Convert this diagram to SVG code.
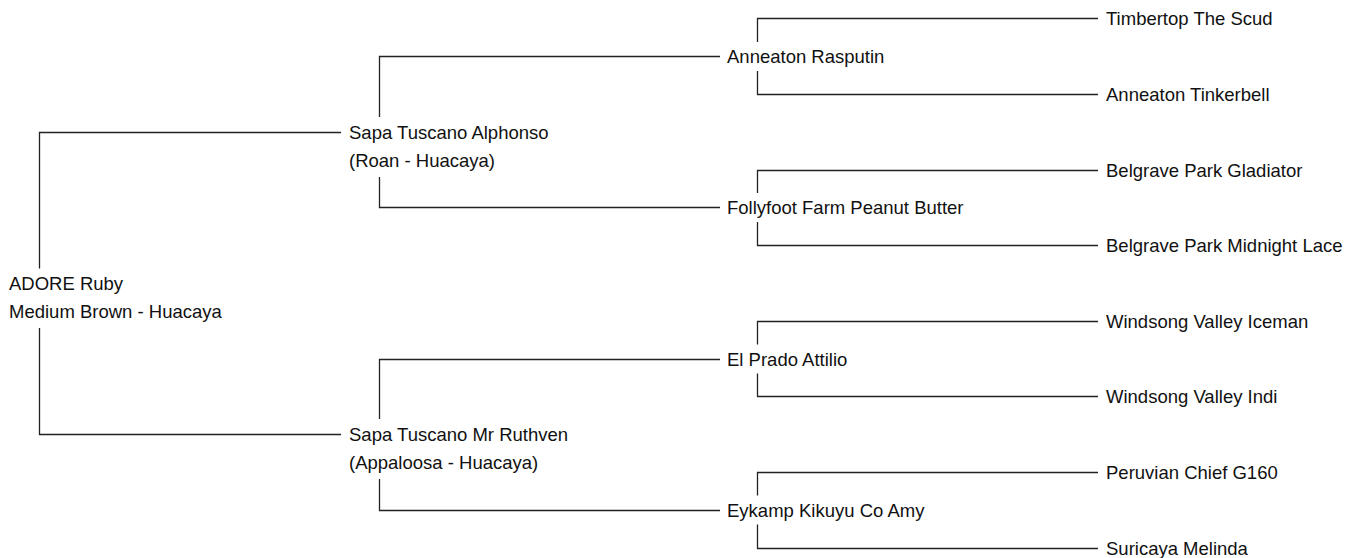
<svg xmlns="http://www.w3.org/2000/svg" width="1351" height="558" viewBox="0 0 1351 558">
<style>
text{font-family:"Liberation Sans",Arial,sans-serif;font-size:18.5px;fill:#111}
.c{fill:none;stroke:#222;stroke-width:1.3}
</style>
<rect width="1351" height="558" fill="#fff"/>
<g id="connectors">
<path class="c" d="M341 132.5H39.5V268.5M39.5 328V434.5H341"/>
<path class="c" d="M720 56.5H379.5V117M379.5 177V207.5H720"/>
<path class="c" d="M720 359.5H379.5V419M379.5 479V510.5H720"/>
<path class="c" d="M1098 18.5H757.5V42M757.5 71V94.5H1098"/>
<path class="c" d="M1098 170.5H757.5V193M757.5 222V245.5H1098"/>
<path class="c" d="M1098 321.5H757.5V344.5M757.5 373.5V396.5H1098"/>
<path class="c" d="M1098 472.5H757.5V495.5M757.5 524.5V548.5H1098"/>
</g>
<g id="n-adore"><text x="9" y="289.5">ADORE Ruby</text><text x="9" y="317.5">Medium Brown - Huacaya</text></g>
<g id="n-alphonso"><text x="349" y="138.5">Sapa Tuscano Alphonso</text><text x="349" y="166.5">(Roan - Huacaya)</text></g>
<g id="n-ruthven"><text x="349" y="440.5">Sapa Tuscano Mr Ruthven</text><text x="349" y="468.5">(Appaloosa - Huacaya)</text></g>
<g id="n-rasputin"><text x="727" y="62.5">Anneaton Rasputin</text></g>
<g id="n-follyfoot"><text x="727" y="213.5">Follyfoot Farm Peanut Butter</text></g>
<g id="n-attilio"><text x="727" y="365.5">El Prado Attilio</text></g>
<g id="n-amy"><text x="727" y="516.5">Eykamp Kikuyu Co Amy</text></g>
<g id="n-scud"><text x="1106" y="24.5">Timbertop The Scud</text></g>
<g id="n-tinkerbell"><text x="1106" y="100.5">Anneaton Tinkerbell</text></g>
<g id="n-gladiator"><text x="1106" y="176.5">Belgrave Park Gladiator</text></g>
<g id="n-lace"><text x="1106" y="251.5">Belgrave Park Midnight Lace</text></g>
<g id="n-iceman"><text x="1106" y="327.5">Windsong Valley Iceman</text></g>
<g id="n-indi"><text x="1106" y="402.5">Windsong Valley Indi</text></g>
<g id="n-peruvian"><text x="1106" y="478.5">Peruvian Chief G160</text></g>
<g id="n-suricaya"><text x="1106" y="554.5">Suricaya Melinda</text></g>
</svg>
